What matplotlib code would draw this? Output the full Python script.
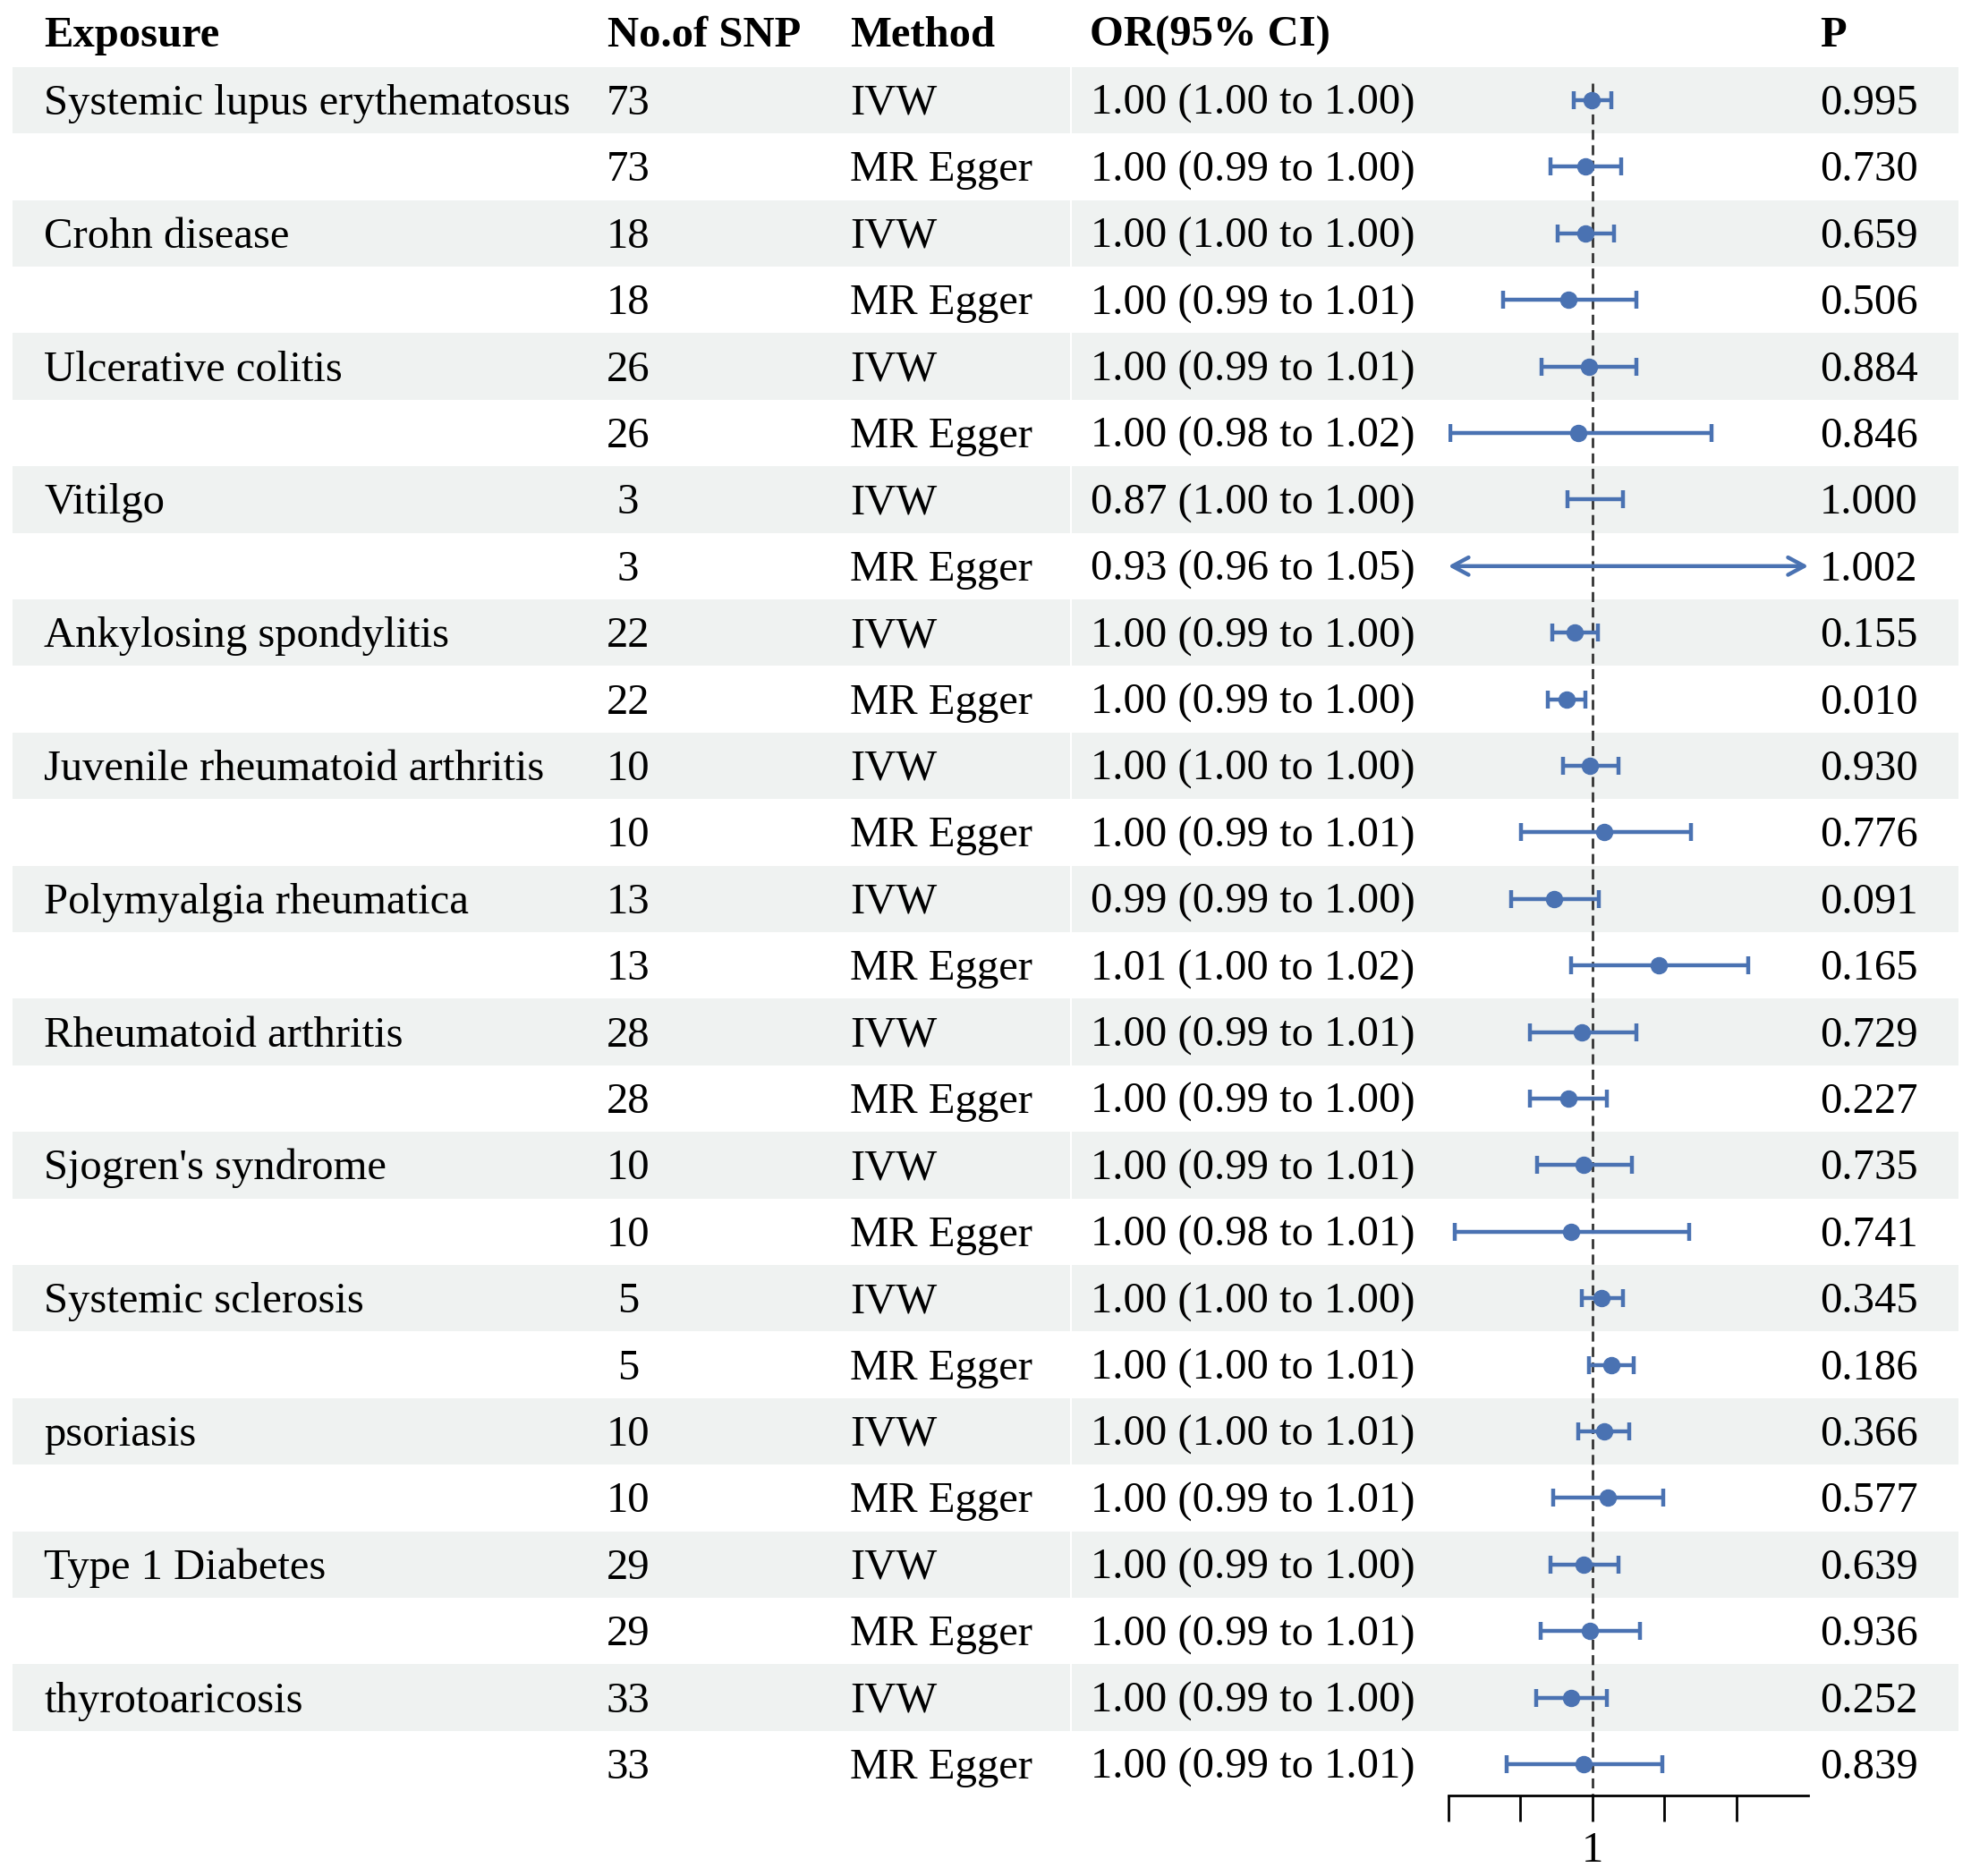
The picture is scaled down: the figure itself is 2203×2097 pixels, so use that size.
import matplotlib
matplotlib.use("Agg")
import matplotlib.pyplot as plt

plt.rcParams["font.family"] = ["Liberation Serif", "DejaVu Serif"]

exposures = ["Systemic lupus erythematosus", "Crohn disease", "Ulcerative colitis",
             "Vitilgo", "Ankylosing spondylitis", "Juvenile rheumatoid arthritis",
             "Polymyalgia rheumatica", "Rheumatoid arthritis", "Sjogren's syndrome",
             "Systemic sclerosis", "psoriasis", "Type 1 Diabetes", "thyrotoaricosis"]
n_snp = [73, 18, 26, 3, 22, 10, 13, 28, 10, 5, 10, 29, 33]
methods = ["IVW", "MR Egger"]

or_labels = ["1.00 (1.00 to 1.00)", "1.00 (0.99 to 1.00)",
             "1.00 (1.00 to 1.00)", "1.00 (0.99 to 1.01)",
             "1.00 (0.99 to 1.01)", "1.00 (0.98 to 1.02)",
             "0.87 (1.00 to 1.00)", "0.93 (0.96 to 1.05)",
             "1.00 (0.99 to 1.00)", "1.00 (0.99 to 1.00)",
             "1.00 (1.00 to 1.00)", "1.00 (0.99 to 1.01)",
             "0.99 (0.99 to 1.00)", "1.01 (1.00 to 1.02)",
             "1.00 (0.99 to 1.01)", "1.00 (0.99 to 1.00)",
             "1.00 (0.99 to 1.01)", "1.00 (0.98 to 1.01)",
             "1.00 (1.00 to 1.00)", "1.00 (1.00 to 1.01)",
             "1.00 (1.00 to 1.01)", "1.00 (0.99 to 1.01)",
             "1.00 (0.99 to 1.00)", "1.00 (0.99 to 1.01)",
             "1.00 (0.99 to 1.00)", "1.00 (0.99 to 1.01)"]
p_labels = ["0.995", "0.730", "0.659", "0.506", "0.884", "0.846", "1.000", "1.002",
            "0.155", "0.010", "0.930", "0.776", "0.091", "0.165", "0.729", "0.227",
            "0.735", "0.741", "0.345", "0.186", "0.366", "0.577", "0.639", "0.936",
            "0.252", "0.839"]

# plotted estimates
or_est = [0.9999, 0.9991, 0.9991, 0.9967, 0.9995, 0.9981, 0.87, 0.93,
          0.9976, 0.9964, 0.9997, 1.0017, 0.9947, 1.0092, 0.9986, 0.9967,
          0.9988, 0.9971, 1.0013, 1.0027, 1.0016, 1.0022, 0.9988, 0.9997,
          0.9971, 0.9988]
ci_low = [0.9974, 0.9942, 0.9952, 0.9876, 0.9929, 0.9803, 0.9965, 0.96,
          0.9944, 0.9938, 0.9960, 0.9901, 0.9887, 0.9970, 0.9913, 0.9914,
          0.9923, 0.9809, 0.9985, 0.9996, 0.9981, 0.9946, 0.9942, 0.9928,
          0.9922, 0.9881]
ci_high = [1.0026, 1.0040, 1.0030, 1.0061, 1.0061, 1.0165, 1.0042, 1.05,
           1.0008, 0.9991, 1.0036, 1.0137, 1.0009, 1.0217, 1.0061, 1.0020,
           1.0055, 1.0135, 1.0043, 1.0057, 1.0051, 1.0099, 1.0036, 1.0066,
           1.0020, 1.0097]

W, H = 2203, 2097
ROW0, ROWH = 112, 74.4          # pixel centre of first row, row height
XMIN, XMAX = 0.98, 1.03
blue = "#4a72b2"
band = "#eff2f1"
fs = 35

fig = plt.figure(figsize=(W / 100, H / 100), dpi=100)

# table layer, y in row units
bg = fig.add_axes([0, 0, 1, 1])
bg.set_xlim(0, W)
bg.set_ylim((H - ROW0) / ROWH, -ROW0 / ROWH)
bg.axis("off")

n_rows = len(or_labels)
rows = list(range(n_rows))

# shaded bands on IVW rows, split by a hair line before the OR column
for i in rows[::2]:
    bg.barh(i, 1196 - 14, left=14, height=1.0, color=band, linewidth=0)
    bg.barh(i, 2189 - 1198, left=1198, height=1.0, color=band, linewidth=0)

hy = -0.806
bg.text(49, hy, "Exposure", fontsize=fs, fontweight="bold", va="baseline")
bg.text(679, hy, "No.of SNP", fontsize=fs, fontweight="bold", va="baseline")
bg.text(950, hy, "Method", fontsize=fs, fontweight="bold", va="baseline")
bg.text(1218, hy, "OR(95% CI)", fontsize=fs, fontweight="bold", va="baseline")
bg.text(2034, hy, "P", fontsize=fs, fontweight="bold", va="baseline")

off = 0.215
for i in rows:
    k = i // 2
    y = i + off
    if i % 2 == 0:
        bg.text(49, y, exposures[k], fontsize=fs, va="baseline")
    bg.text(702, y, str(n_snp[k]), fontsize=fs, va="baseline", ha="center")
    bg.text(950, y, methods[i % 2], fontsize=fs, va="baseline")
    bg.text(1219, y, or_labels[i], fontsize=fs, va="baseline")
    bg.text(2034, y, p_labels[i], fontsize=fs, va="baseline")

# forest layer
ax_bottom = (H - 2007) / H
ax_top = (H - (ROW0 - ROWH / 2)) / H
ax = fig.add_axes([1618.7 / W, ax_bottom, 402.5 / W, ax_top - ax_bottom])
ax.patch.set_alpha(0)
ax.set_xlim(XMIN, XMAX)
ax.set_ylim(25.47, -0.5)
for s in ["top", "left", "right"]:
    ax.spines[s].set_visible(False)
ax.spines["bottom"].set_linewidth(2.0)
ax.set_yticks([])
ax.set_xticks([0.98, 0.99, 1.00, 1.01, 1.02])
ax.set_xticklabels(["", "", "1", "", ""])
ax.tick_params(axis="x", direction="out", length=21, width=2.0, pad=8, labelsize=fs)

ax.plot([1, 1], [-0.25, 25.47], color="#333333", lw=2.0, dashes=(4, 2.2), zorder=1,
        clip_on=False)

lw = 3.2
for i in rows:
    lo, hi, est = ci_low[i], ci_high[i], or_est[i]
    left_arrow = lo < XMIN
    right_arrow = hi > XMAX
    lo_c, hi_c = max(lo, XMIN), min(hi, XMAX)
    if left_arrow or right_arrow:
        style = "<->" if (left_arrow and right_arrow) else ("->" if right_arrow else "<-")
        ax.annotate("", xy=(hi_c, i), xytext=(lo_c, i),
                    arrowprops=dict(arrowstyle=style + ",head_length=1.3,head_width=0.7",
                                    color=blue, lw=lw, shrinkA=0, shrinkB=0,
                                    mutation_scale=10),
                    zorder=3)
    else:
        ax.plot([lo, hi], [i, i], color=blue, lw=lw, zorder=3, solid_capstyle="butt")
    ends = []
    if not left_arrow:
        ends.append(lo)
    if not right_arrow:
        ends.append(hi)
    if ends:
        ax.plot(ends, [i] * len(ends), ls="none", marker="|", ms=14, mew=lw,
                color=blue, zorder=3)
    ax.plot([est], [i], ls="none", marker="o", ms=13, color=blue, zorder=4)

fig.savefig("out.png", dpi=100)
